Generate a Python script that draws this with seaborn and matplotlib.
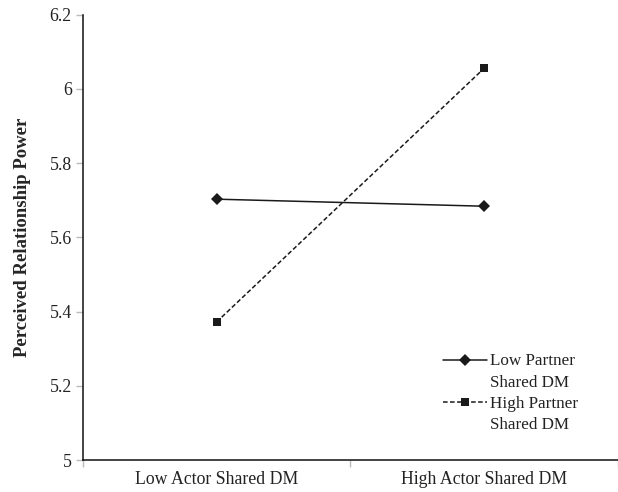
import matplotlib
matplotlib.use('Agg')
import matplotlib.pyplot as plt
import seaborn as sns
import pandas as pd
import numpy as np
from matplotlib.legend_handler import HandlerLine2D

# data
actor_levels = ['Low Actor Shared DM', 'High Actor Shared DM']
low_partner = [5.703, 5.684]
high_partner = [5.372, 6.056]
series_names = ['Low Partner\nShared DM', 'High Partner\nShared DM']
y_ticks = [5, 5.2, 5.4, 5.6, 5.8, 6, 6.2]
y_tick_labels = ['5', '5.2', '5.4', '5.6', '5.8', '6', '6.2']

df = pd.DataFrame({
    'actor': actor_levels * 2,
    'power': low_partner + high_partner,
    'partner': [series_names[0]] * 2 + [series_names[1]] * 2,
})
df['pos'] = df['actor'].map({a: i for i, a in enumerate(actor_levels)})


class FirstLineHandler(HandlerLine2D):
    # put the legend key next to the first line of a two-line label
    def create_artists(self, legend, orig_handle, xdescent, ydescent,
                       width, height, fontsize, trans):
        arts = super().create_artists(legend, orig_handle, xdescent, ydescent,
                                      width, height, fontsize, trans)
        for a in arts:
            a.set_ydata(np.asarray(a.get_ydata()) + 0.72 * fontsize)
        return arts


sns.set_theme(style='white')
plt.rcParams['font.family'] = ['Liberation Serif', 'DejaVu Serif']

fig = plt.figure(figsize=(6.18, 4.92), dpi=100)
ax = fig.add_axes([0.134, 0.065, 0.866, 0.905])

sns.lineplot(data=df, x='pos', y='power', hue='partner', style='partner',
             palette=['#1a1a1a', '#1a1a1a'],
             markers={series_names[0]: 'D', series_names[1]: 's'},
             dashes={series_names[0]: '', series_names[1]: (3, 1.6)},
             markersize=6, linewidth=1.1, markeredgewidth=0, ax=ax)

ax.set_xlim(-0.5, 1.5)
ax.set_ylim(5, 6.2)
ax.set_xticks([0, 1])
ax.set_xticklabels(actor_levels, fontsize=12.8, color='#222222')
ax.set_xticks([-0.5, 0.5, 1.5], minor=True)
ax.tick_params(axis='x', which='major', length=0, pad=8)
ax.tick_params(axis='x', which='minor', length=5, width=1, color='#bbbbbb', direction='out', bottom=True)
ax.set_yticks(y_ticks)
ax.set_yticklabels(y_tick_labels, fontsize=12.8, color='#222222')
ax.tick_params(axis='y', length=5, width=1, color='#bbbbbb', direction='out', left=True, pad=3)

ax.set_xlabel('')
ax.set_ylabel('Perceived Relationship Power', fontsize=13.5, fontweight='bold', labelpad=13)

for side in ['top', 'right']:
    ax.spines[side].set_visible(False)
for side in ['left', 'bottom']:
    ax.spines[side].set_color('#111111')
    ax.spines[side].set_linewidth(1.1)

handles, labels = ax.get_legend_handles_labels()
leg = ax.legend(handles, labels, loc='lower left', bbox_to_anchor=(0.66, 0.045),
                frameon=False, fontsize=12.3, handlelength=2.6, handletextpad=0.15,
                labelspacing=0.3, borderaxespad=0,
                handler_map={h: FirstLineHandler() for h in handles})
for t in leg.get_texts():
    t.set_color('#222222')
    t.set_linespacing(1.45)

fig.savefig('out.png', dpi=100)
